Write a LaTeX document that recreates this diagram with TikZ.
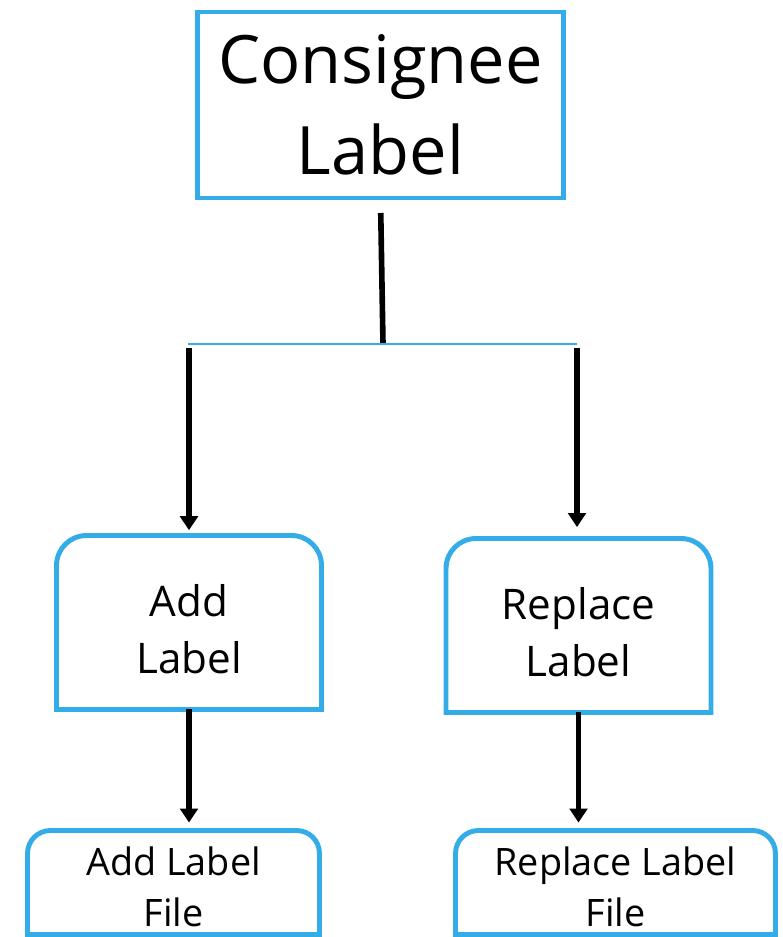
\documentclass[tikz,border=0pt]{standalone}
\usepackage{fontspec}
\setmainfont{Open Sans}
\usetikzlibrary{arrows.meta}
\definecolor{boxblue}{RGB}{52,172,232}
\tikzset{
  boxline/.style={draw=boxblue, line width=2.8pt},
  topbox/.style={boxline, outer sep=0pt, minimum width=7.32cm, minimum height=3.72cm,
    align=center, font=\fontsize{38}{52}\selectfont},
  stepnode/.style={outer sep=0pt, minimum width=5.3cm, minimum height=3.48cm},
  steptext/.style={align=center, font=\fontsize{24}{33}\selectfont, yshift=-3.8pt},
  filenode/.style={outer sep=0pt, minimum width=#1, minimum height=2.08cm},
  filetext/.style={align=center, font=\fontsize{21.5}{29}\selectfont, yshift=-2.3pt},
  link/.style={line width=3.2pt},
  arrow/.style={link, -{Triangle[width=10pt,length=8pt]}}
}

\begin{document}
\begin{tikzpicture}[x=0.02cm, y=-0.02cm]
  \useasboundingbox[fill=white] (0,0) rectangle (782,937);

  % Boxes
  \node[topbox] (cons) at (380.5,105) {Consignee\\Label};
  \node[stepnode, label={[steptext]center:{Add\\Label}}] (add) at (189,622.5) {};
  \node[stepnode, label={[steptext]center:{Replace\\Label}}] (repl) at (578.5,625.5) {};
  \node[filenode=5.84cm, label={[filetext]center:{Add Label\\File}}] (addfile) at (173.5,882.5) {};
  \node[filenode=6.4cm, label={[filetext]center:{Replace Label\\File}}] (replfile) at (615.5,882.5) {};

  % Outlines, top corners rounded
  \foreach \n/\r in {add/17pt, repl/17pt, addfile/13pt, replfile/13pt}
    \draw[boxline, rounded corners=\r] (\n.south west) -- (\n.north west)
      -- (\n.north east) [sharp corners] -- (\n.south east) -- cycle;

  % Branch
  \coordinate (split) at (383,344);
  \coordinate (forkL) at (189,344);
  \coordinate (forkR) at (577,344);
  \draw[link, shorten <=0.3cm] (cons.south) -- (split);
  \draw[boxblue, line width=1.1pt] (forkL) ++(-1,0) -- (forkR);

  % Arrows
  \draw[arrow, shorten <=2pt, shorten >=3pt] (forkL) -- (forkL |- add.north);
  \draw[arrow, shorten <=2pt, shorten >=6.5pt] (forkR) -- (forkR |- repl.north);
  \draw[arrow, shorten >=4.5pt] (add.south) -- (add.south |- addfile.north);
  \draw[arrow, shorten >=4.5pt] (repl.south) -- (repl.south |- replfile.north);
\end{tikzpicture}
\end{document}
